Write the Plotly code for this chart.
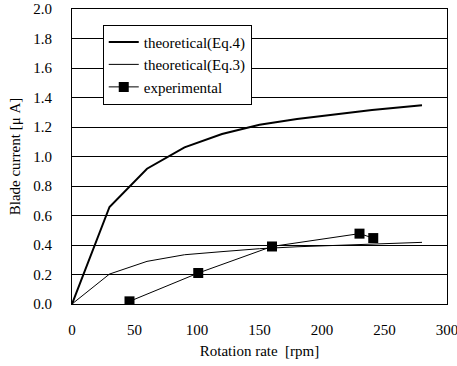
import plotly.graph_objects as go

rpm_theory = [0, 30, 60, 90, 120, 150, 180, 210, 240, 280]
eq4_current = [0.0, 0.658, 0.917, 1.062, 1.152, 1.215, 1.255, 1.285, 1.315, 1.347]
eq3_current = [0.0, 0.203, 0.289, 0.334, 0.355, 0.375, 0.388, 0.398, 0.408, 0.418]

rpm_exp = [46, 101, 160, 230, 241]
exp_current = [0.018, 0.21, 0.39, 0.477, 0.447]

x_ticks = [0, 50, 100, 150, 200, 250, 300]
y_ticks = [0.0, 0.2, 0.4, 0.6, 0.8, 1.0, 1.2, 1.4, 1.6, 1.8, 2.0]

FAMILY = "Times New Roman, Liberation Serif, DejaVu Serif, serif"
font = dict(family=FAMILY, size=15, color="black")

fig = go.Figure()
fig.add_trace(go.Scatter(x=rpm_theory, y=eq4_current, mode="lines",
                         name="theoretical(Eq.4)", line=dict(color="black", width=2)))
fig.add_trace(go.Scatter(x=rpm_theory, y=eq3_current, mode="lines",
                         name="theoretical(Eq.3)", line=dict(color="black", width=1)))
fig.add_trace(go.Scatter(x=rpm_exp, y=exp_current, mode="lines+markers",
                         name="experimental", line=dict(color="black", width=1),
                         marker=dict(symbol="square", size=10, color="black")))

fig.update_layout(
    template="none",
    width=457, height=366,
    margin=dict(l=72, r=10, t=9, b=62, autoexpand=False),
    paper_bgcolor="white", plot_bgcolor="white",
    font=font,
    showlegend=True,
    legend=dict(x=0.082, y=0.947, xanchor="left", yanchor="top",
                bgcolor="white", bordercolor="black", borderwidth=1,
                font=font, itemwidth=30, tracegroupgap=0),
    xaxis=dict(range=[0, 300], tickvals=x_ticks, ticktext=[str(v) for v in x_ticks],
               showline=True, linecolor="black", linewidth=1, mirror=True,
               ticks="outside", ticklen=12, tickcolor="rgba(0,0,0,0)", tickfont=font,
               ticklabeloverflow="allow",
               showgrid=False, zeroline=False, automargin=False,
               title=dict(text="Rotation rate  [rpm]", standoff=8, font=font)),
    xaxis2=dict(range=[0, 300], tickvals=x_ticks, overlaying="x", anchor="y",
                side="bottom", matches="x", showticklabels=False,
                ticks="inside", ticklen=6, tickcolor="black",
                showline=False, showgrid=False, zeroline=False, automargin=False),
    yaxis=dict(range=[0, 2.0], tickvals=y_ticks, ticktext=[f"{v:.1f}" for v in y_ticks],
               showline=True, linecolor="black", linewidth=1, mirror=True,
               ticks="", showgrid=True, gridcolor="black", gridwidth=1, tickfont=font,
               ticklabelstandoff=16,
               zeroline=False, automargin=False,
               title=dict(text="Blade current [\u03bc A]", standoff=9, font=font)),
)

fig.write_html("out.html")
